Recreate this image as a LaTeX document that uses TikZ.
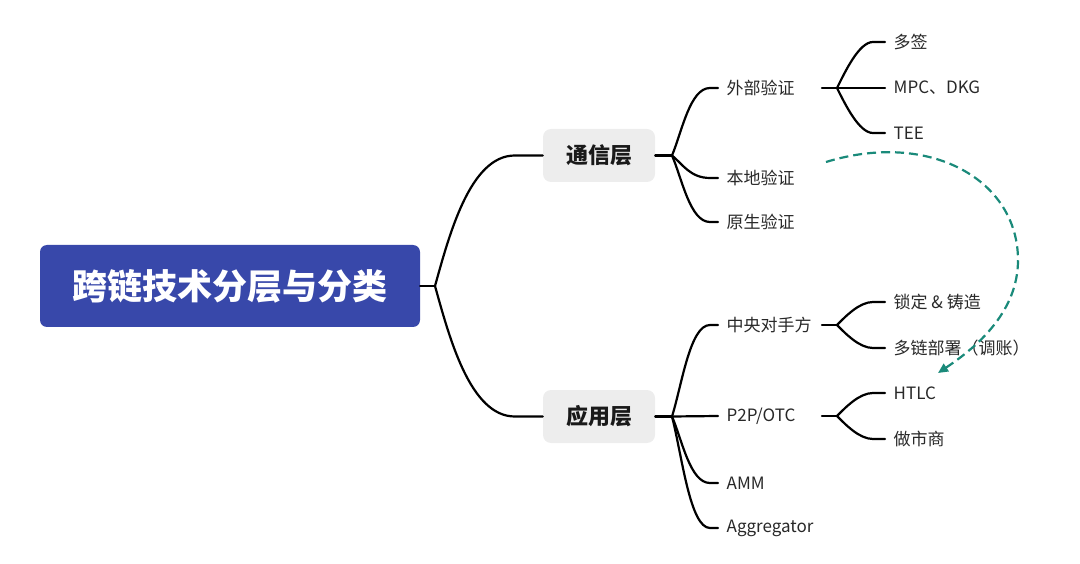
\documentclass[tikz,border=0pt]{standalone}
\usepackage{fontspec}
\setmainfont{Noto Sans CJK SC}
\usetikzlibrary{arrows.meta}
\definecolor{rootblue}{RGB}{56,72,170}
\definecolor{boxgray}{RGB}{237,237,237}
\definecolor{dashteal}{RGB}{26,138,122}
\definecolor{txt}{RGB}{40,40,40}
\begin{document}
\begin{tikzpicture}[x=1pt,y=-1pt,
 br/.style={line width=2.2pt, black, line cap=round},
 rootbox/.style={rectangle, rounded corners=7pt, fill=rootblue, minimum width=380pt, minimum height=82pt, text=white, font=\fontsize{35}{40}\selectfont\bfseries},
 layer/.style={rectangle, rounded corners=8pt, fill=boxgray, minimum width=112pt, minimum height=53pt, font=\fontsize{22}{26}\selectfont\bfseries, text=black!90},
 leaf/.style={anchor=west, inner xsep=8.5pt, inner ysep=0pt, font=\fontsize{17}{20}\selectfont, text=txt},
 flow/.style={dashteal, line width=2.2pt, dash pattern=on 9pt off 5pt, -{Triangle[length=10pt,width=9pt]}}
]
\useasboundingbox (0,0) rectangle (1080,564);

\node[rootbox] (root) at (230,286) {跨链技术分层与分类};
\node[layer] (comm) at (599,155.5) {通信层};
\node[layer] (app) at (599,416.5) {应用层};
\node[leaf] (ext) at (718,88) {外部验证};
\node[leaf] (loc) at (718,178) {本地验证};
\node[leaf] (nat) at (718,222) {原生验证};
\node[leaf] (ms) at (885,42) {多签};
\node[leaf] (mpc) at (885,88) {MPC、DKG};
\node[leaf] (tee) at (885,133) {TEE};
\node[leaf] (cp) at (718,325) {中央对手方};
\node[leaf] (p2p) at (718,416) {P2P/OTC};
\node[leaf] (amm) at (718,483) {AMM};
\node[leaf] (agg) at (718,528) {Aggregator};
\node[leaf] (lock) at (885,302) {锁定 \& 铸造};
\node[leaf] (multi) at (885,348) {多链部署（调账）};
\node[leaf] (htlc) at (885,393) {HTLC};
\node[leaf] (mm) at (885,439) {做市商};

\coordinate (b0) at (435,286);
\coordinate (b1) at (672,155.5);
\coordinate (b2) at (672,416.5);
\coordinate (extR) at (822,88);
\coordinate (b3) at (837,88);
\coordinate (cpR) at (822,325);
\coordinate (b4) at (837,325);
\coordinate (p2pR) at (822,416);
\coordinate (b5) at (837,416);
\coordinate (as) at (826,162);
\coordinate (ae) at (938,373);

% root branches
\draw[br] (root.east) -- (b0);
\draw[br] (b0) .. controls +(14,-50) and +(-45,0) .. ([xshift=-28pt]comm.west) -- (comm.west);
\draw[br] (b0) .. controls +(14,50) and +(-45,0) .. ([xshift=-28pt]app.west) -- (app.west);

% communication layer
\draw[br] (comm.east) -- (b1);
\draw[br] (b1) .. controls +(10,-24) and +(-20,0) .. ([xshift=-8pt]ext.west) -- (ext.west);
\draw[br] (b1) .. controls +(10,8) and +(-20,0) .. ([xshift=-8pt]loc.west) -- (loc.west);
\draw[br] (b1) .. controls +(10,23) and +(-20,0) .. ([xshift=-8pt]nat.west) -- (nat.west);

\draw[br] (extR) -- (b3);
\draw[br] (b3) .. controls +(8,-16) and +(-14,0) .. ([xshift=-12pt]ms.west) -- (ms.west);
\draw[br] (b3) -- (mpc.west);
\draw[br] (b3) .. controls +(8,16) and +(-14,0) .. ([xshift=-12pt]tee.west) -- (tee.west);

% application layer
\draw[br] (app.east) -- (b2);
\draw[br] (b2) .. controls +(10,-32) and +(-20,0) .. ([xshift=-8pt]cp.west) -- (cp.west);
\draw[br] (b2) -- (p2p.west);
\draw[br] (b2) .. controls +(10,23) and +(-20,0) .. ([xshift=-8pt]amm.west) -- (amm.west);
\draw[br] (b2) .. controls +(10,39) and +(-20,0) .. ([xshift=-8pt]agg.west) -- (agg.west);

\draw[br] (cpR) -- (b4);
\draw[br] (b4) .. controls +(8,-8) and +(-14,0) .. ([xshift=-12pt]lock.west) -- (lock.west);
\draw[br] (b4) .. controls +(8,8) and +(-14,0) .. ([xshift=-12pt]multi.west) -- (multi.west);

\draw[br] (p2pR) -- (b5);
\draw[br] (b5) .. controls +(8,-8) and +(-14,0) .. ([xshift=-12pt]htlc.west) -- (htlc.west);
\draw[br] (b5) .. controls +(8,8) and +(-14,0) .. ([xshift=-12pt]mm.west) -- (mm.west);

% dashed arrow
\draw[flow] (as) .. controls (930,130) and (1018,180) .. (1018,260) .. controls (1018,310) and (980,345) .. (ae);
\end{tikzpicture}
\end{document}
